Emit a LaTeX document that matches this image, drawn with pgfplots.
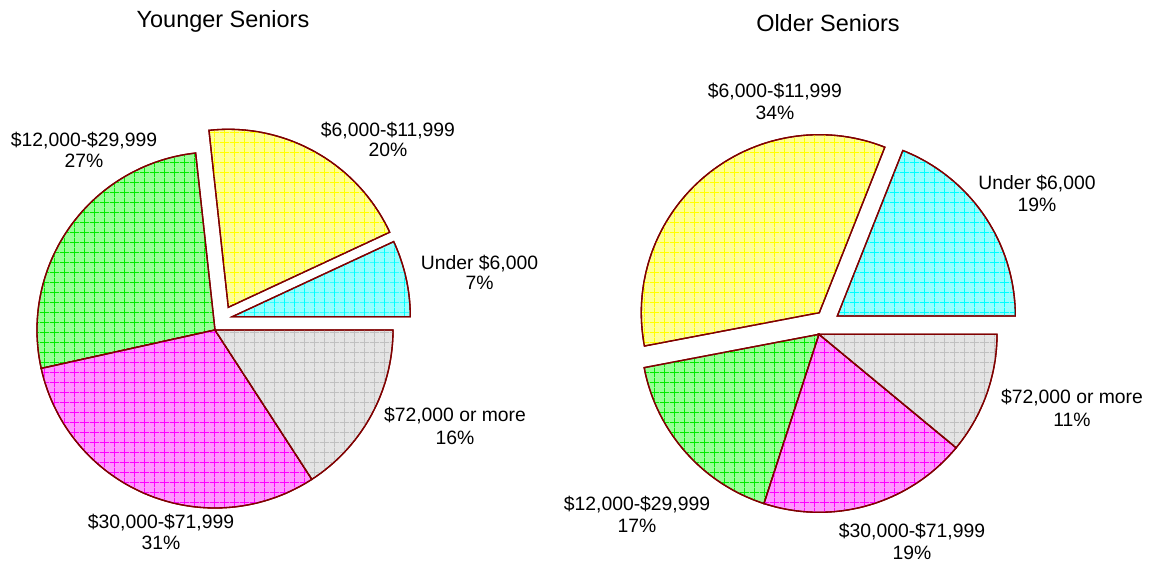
\documentclass[border=0pt]{standalone}
\usepackage{pgfplots}
\pgfplotsset{compat=1.18}
\usepackage{fontspec}
\setmainfont{Liberation Sans}
\usetikzlibrary{patterns.meta}
\definecolor{pieedge}{RGB}{128,0,0}
\definecolor{fcyan}{RGB}{150,255,255}\definecolor{gcyan}{RGB}{0,255,255}
\definecolor{fyel}{RGB}{255,255,150}\definecolor{gyel}{RGB}{255,255,0}
\definecolor{fgrn}{RGB}{150,255,150}\definecolor{ggrn}{RGB}{0,235,0}
\definecolor{fmag}{RGB}{255,150,255}\definecolor{gmag}{RGB}{255,0,255}
\definecolor{fgry}{RGB}{228,228,228}\definecolor{ggry}{RGB}{192,192,192}
\pgfdeclarepattern{
  name=pgrid, type=uncolored,
  bottom left={\pgfpoint{0pt}{0pt}},
  top right={\pgfpoint{7.5pt}{7.5pt}},
  tile size={\pgfpoint{7.5pt}{7.5pt}},
  code={
    \pgfsetlinewidth{0.55pt}
    \pgfpathmoveto{\pgfpoint{0pt}{3.75pt}}\pgfpathlineto{\pgfpoint{7.5pt}{3.75pt}}
    \pgfpathmoveto{\pgfpoint{3.75pt}{0pt}}\pgfpathlineto{\pgfpoint{3.75pt}{7.5pt}}
    \pgfusepath{stroke}
  }
}
% #1 apex x, #2 apex y, #3 radius, #4 cumulative start (%), #5 cumulative end (%),
% #6 total (%), #7 fill colour, #8 grid colour
\newcommand\pieslice[8]{%
  \addplot[no markers, draw=pieedge, line width=1pt, line join=miter,
    preaction={fill=#7}, pattern=pgrid, pattern color=#8,
    domain={360*#4/#6}:{360*#5/#6}, samples=120, variable=\t]
    ({#1+#3*cos(t)}, {#2+#3*sin(t)}) -- (axis cs:#1,#2) -- cycle;
}
\begin{document}
\begin{tikzpicture}
\begin{axis}[hide axis, scale only axis, width=870pt, height=425.25pt,
  xmin=0, xmax=1160, ymin=0, ymax=567, clip=false]
% ---- Younger Seniors: 7, 20, 27, 31, 16 (sum 101)
\pieslice{232.3}{250.3}{178}{0}{7}{101}{fcyan}{gcyan}
\pieslice{228.3}{259.7}{178}{7}{27}{101}{fyel}{gyel}
\pieslice{215}{237}{178}{27}{54}{101}{fgrn}{ggrn}
\pieslice{215}{237}{178}{54}{85}{101}{fmag}{gmag}
\pieslice{215}{237}{178}{85}{101}{101}{fgry}{ggry}
% ---- Older Seniors: 19, 34, 17, 19, 11 (sum 100)
\pieslice{837.3}{251}{178}{0}{19}{100}{fcyan}{gcyan}
\pieslice{819.3}{254.3}{178}{19}{53}{100}{fyel}{gyel}
\pieslice{819}{232.7}{178}{53}{70}{100}{fgrn}{ggrn}
\pieslice{819}{232.7}{178}{70}{89}{100}{fmag}{gmag}
\pieslice{819}{232.7}{178}{89}{100}{100}{fgry}{ggry}
% titles
\node[anchor=base, inner sep=0pt, font=\fontsize{17.6}{20}\selectfont] at (axis cs:223,539) {Younger Seniors};
\node[anchor=base, inner sep=0pt, font=\fontsize{17.6}{20}\selectfont] at (axis cs:828,535) {Older Seniors};
\begin{scope}[every node/.style={anchor=base, inner sep=0pt, font=\fontsize{14.5}{17}\selectfont}]
% labels (left)
\node at (axis cs:84,420.3) {\$12,000-\$29,999};
\node at (axis cs:84,399.3) {27\%};
\node at (axis cs:388,430.3) {\$6,000-\$11,999};
\node at (axis cs:388,410.3) {20\%};
\node at (axis cs:479.5,297.3) {Under \$6,000};
\node at (axis cs:479.5,277.3) {7\%};
\node at (axis cs:455,145.3) {\$72,000 or more};
\node at (axis cs:455,122) {16\%};
\node at (axis cs:161,38.7) {\$30,000-\$71,999};
\node at (axis cs:161,17) {31\%};
% labels (right)
\node at (axis cs:775,469) {\$6,000-\$11,999};
\node at (axis cs:775,447) {34\%};
\node at (axis cs:1037,377) {Under \$6,000};
\node at (axis cs:1037,355) {19\%};
\node at (axis cs:1072,163) {\$72,000 or more};
\node at (axis cs:1072,140) {11\%};
\node at (axis cs:637,56) {\$12,000-\$29,999};
\node at (axis cs:637,34) {17\%};
\node at (axis cs:912,29) {\$30,000-\$71,999};
\node at (axis cs:912,7) {19\%};
\end{scope}
\end{axis}
\path (current axis.south west) rectangle (current axis.north east);
\end{tikzpicture}
\end{document}
